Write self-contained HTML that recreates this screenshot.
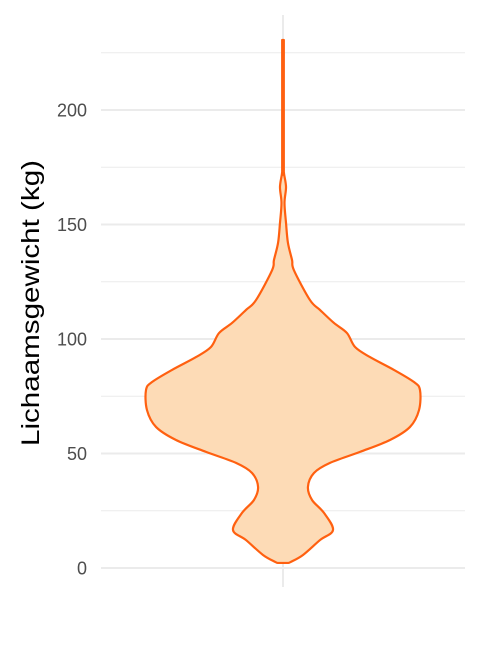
<!DOCTYPE html>
<html><head><meta charset="utf-8"><style>
html,body{margin:0;padding:0;background:#fff;}
svg{display:block;font-family:"Liberation Sans",Arial,sans-serif;}
</style></head><body>
<svg id="chart" width="480" height="672" viewBox="0 0 480 672" xmlns="http://www.w3.org/2000/svg">
<g id="grid"></g>
<g id="axis"></g>
<g id="marks"></g>
<text transform="translate(39,303) rotate(-90)" text-anchor="middle" font-size="25" textLength="286" lengthAdjust="spacingAndGlyphs" fill="#000">Lichaamsgewicht (kg)</text>
</svg>
<script>
const yTicks = [0, 50, 100, 150, 200];
const yMinor = [25, 75, 125, 175, 225];
const kgValues = [2.2, 2.6, 5.7, 12.2, 16.6, 24, 29.7, 35.4, 41.5, 45.9, 50.7, 55.9, 61.6, 69, 77.7, 81.2, 86.5, 92.1, 96.5, 102.6, 107, 112.7, 117, 130, 134.5, 142, 150.7, 159.4, 166.4, 172.5, 176.9, 230.6];
const densityValues = [0.04, 0.055, 0.146, 0.27, 0.365, 0.3, 0.212, 0.182, 0.226, 0.343, 0.562, 0.781, 0.927, 0.993, 1.0, 0.956, 0.81, 0.635, 0.526, 0.467, 0.372, 0.27, 0.197, 0.08, 0.066, 0.036, 0.022, 0.011, 0.022, 0.007, 0.006, 0.006];

const NS = "http://www.w3.org/2000/svg";
const y = v => 568 - v * 2.29;
const cx = 283;
const w = d => d * 137;
const grid = document.getElementById('grid');
const axis = document.getElementById('axis');
const marks = document.getElementById('marks');
function mk(tag, attrs, parent){const e=document.createElementNS(NS,tag);for(const k in attrs)e.setAttribute(k,attrs[k]);parent.appendChild(e);return e;}

yMinor.forEach(v=>{
  const l=mk('line',{x1:101,x2:465,y1:y(v),y2:y(v),stroke:'#ebebeb','stroke-width':1},grid);
  
  
});
yTicks.forEach(v=>{
  const l=mk('line',{x1:101,x2:465,y1:y(v),y2:y(v),stroke:'#ebebeb','stroke-width':2},grid);
  
  
  const t=mk('text',{x:87,y:y(v)+6.5,'text-anchor':'end','font-size':18,fill:'#4d4d4d'},axis);
  t.textContent=v;
  
  
});
const vl=mk('line',{x1:cx,x2:cx,y1:15,y2:587,stroke:'#ebebeb','stroke-width':2},grid);



const right = kgValues.map((k,i)=>[cx+w(densityValues[i]), y(k)]);
const left = kgValues.map((k,i)=>[cx-w(densityValues[i]), y(k)]).reverse();
function smooth(pts){
  let d='M'+pts[0][0]+','+pts[0][1];
  for(let i=0;i<pts.length-1;i++){
    const p0=pts[Math.max(i-1,0)],p1=pts[i],p2=pts[i+1],p3=pts[Math.min(i+2,pts.length-1)];
    const c1=[p1[0]+(p2[0]-p0[0])/6,p1[1]+(p2[1]-p0[1])/6];
    const c2=[p2[0]-(p3[0]-p1[0])/6,p2[1]-(p3[1]-p1[1])/6];
    d+=' C'+c1[0]+','+c1[1]+' '+c2[0]+','+c2[1]+' '+p2[0]+','+p2[1];
  }
  return d;
}
const dR=smooth(right), dL=smooth(left);
const path=mk('path',{d:dR+' L'+left[0][0]+','+left[0][1]+dL.replace(/^M[^C]*/,' ')+' Z',fill:'#fddbb6',stroke:'#ff6010','stroke-width':2.2,'stroke-linejoin':'round'},marks);


</script>
</body></html>
